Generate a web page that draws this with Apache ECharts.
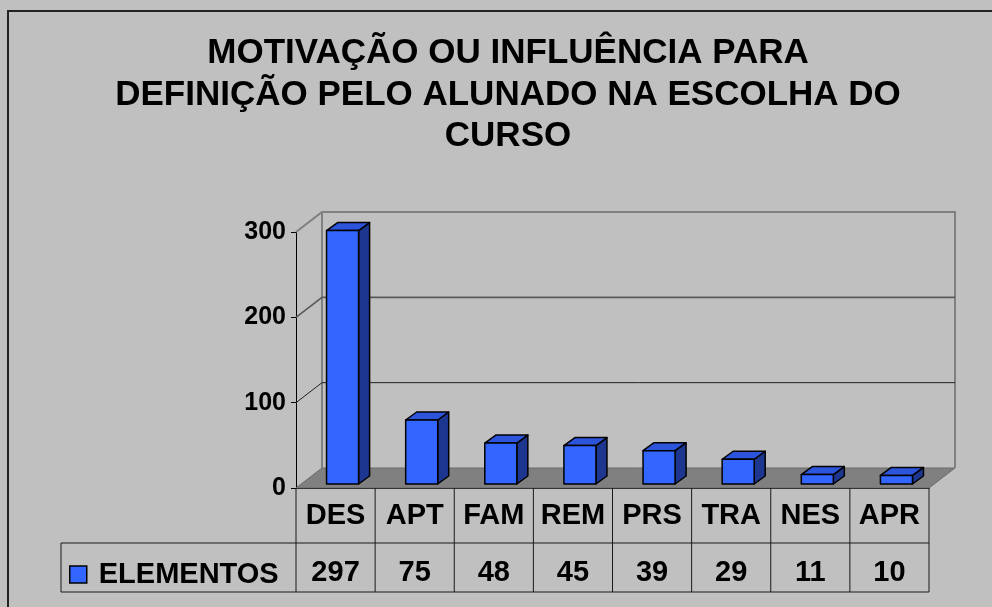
<!DOCTYPE html>
<html>
<head>
<meta charset="utf-8">
<script src="https://cdn.jsdelivr.net/npm/echarts@6/dist/echarts.min.js"></script>
<style>
  html, body { margin: 0; padding: 0; background: #c0c0c0; }
  #chart { width: 992px; height: 607px; }
</style>
</head>
<body>
<div id="chart"></div>
<script>
var titleLines = ['MOTIVAÇÃO OU INFLUÊNCIA PARA', 'DEFINIÇÃO PELO ALUNADO NA ESCOLHA DO', 'CURSO'];
var categories = ['DES', 'APT', 'FAM', 'REM', 'PRS', 'TRA', 'NES', 'APR'];
var elementos = [297, 75, 48, 45, 39, 29, 11, 10];
var yTicks = [0, 100, 200, 300];
var seriesName = 'ELEMENTOS';

var FONT = '"Liberation Sans", Arial, sans-serif';
// depth of the back wall and of the bars (pixels)
var WALL_DX = 26, WALL_DY = -20;
var BAR_DX = 11, BAR_DY = -8;
var TABLE_MID = 543, TABLE_BOTTOM = 592, TABLE_LEFT = 61;

var chart = echarts.init(document.getElementById('chart'));

function sceneItem(params, api) {
  var cs = params.coordSys;
  var left = cs.x, right = cs.x + cs.width;
  var y0 = api.coord([0, 0])[1];
  var children = [];
  // floor
  children.push({
    type: 'polygon',
    shape: { points: [[left, y0], [left + WALL_DX, y0 + WALL_DY], [right + WALL_DX, y0 + WALL_DY], [right, y0]] },
    style: { fill: '#808080', stroke: '#6a6a6a', lineWidth: 1 }
  });
  // back wall outline + side wall top edge
  var yTop = api.coord([0, yTicks[yTicks.length - 1]])[1];
  children.push({
    type: 'polyline',
    shape: { points: [[left, yTop], [left + WALL_DX, yTop + WALL_DY], [right + WALL_DX, yTop + WALL_DY], [right + WALL_DX, y0 + WALL_DY]] },
    style: { fill: null, stroke: '#808080', lineWidth: 2 }
  });
  children.push({
    type: 'line',
    shape: { x1: left + WALL_DX, y1: yTop + WALL_DY, x2: left + WALL_DX, y2: y0 + WALL_DY },
    style: { stroke: '#808080', lineWidth: 2 }
  });
  // gridlines on the back wall and the side wall
  yTicks.forEach(function (t) {
    if (t === 0 || t === yTicks[yTicks.length - 1]) return;
    var y = api.coord([0, t])[1];
    children.push({
      type: 'polyline',
      shape: { points: [[left, y], [left + WALL_DX, y + WALL_DY], [right + WALL_DX, y + WALL_DY]] },
      style: { fill: null, stroke: t === 200 ? '#5a5a5a' : '#202020', lineWidth: t === 200 ? 1.6 : 1 }
    });
  });
  return { type: 'group', children: children };
}

function barItem(params, api) {
  var i = api.value(0), v = api.value(1);
  var base = api.coord([i, 0]);
  var top = api.coord([i, v]);
  var band = api.size([1, 0])[0];
  var w = band * 0.405;
  var x0 = base[0] - w / 2 + 7, x1 = x0 + w;
  var yb = base[1] - 4, yt = top[1] - 4;
  var line = { stroke: '#000', lineWidth: 1.5, lineJoin: 'round' };
  return {
    type: 'group',
    children: [
      { type: 'polygon', shape: { points: [[x1, yt], [x1 + BAR_DX, yt + BAR_DY], [x1 + BAR_DX, yb + BAR_DY], [x1, yb]] },
        style: Object.assign({ fill: '#1d3790' }, line) },
      { type: 'polygon', shape: { points: [[x0, yt], [x0 + BAR_DX, yt + BAR_DY], [x1 + BAR_DX, yt + BAR_DY], [x1, yt]] },
        style: Object.assign({ fill: '#2d55dc' }, line) },
      { type: 'rect', shape: { x: x0, y: yt, width: w, height: yb - yt },
        style: Object.assign({ fill: '#3366ff' }, line) }
    ]
  };
}

function tableItem(params, api) {
  var i = api.value(0);
  var base = api.coord([i, 0]);
  var band = api.size([1, 0])[0];
  var xr = base[0] + band / 2;
  var st = { stroke: '#1a1a1a', lineWidth: 1 };
  var children = [
    { type: 'line', shape: { x1: xr, y1: base[1], x2: xr, y2: TABLE_BOTTOM }, style: st }
  ];
  if (i === 0) {
    var xl = base[0] - band / 2;
    var xEnd = xl + band * categories.length;
    children.push({ type: 'line', shape: { x1: xl, y1: base[1], x2: xl, y2: TABLE_BOTTOM }, style: st });
    children.push({ type: 'line', shape: { x1: TABLE_LEFT, y1: TABLE_MID, x2: xEnd, y2: TABLE_MID }, style: st });
    children.push({ type: 'line', shape: { x1: TABLE_LEFT, y1: TABLE_BOTTOM, x2: xEnd, y2: TABLE_BOTTOM }, style: st });
    children.push({ type: 'line', shape: { x1: TABLE_LEFT, y1: TABLE_MID, x2: TABLE_LEFT, y2: TABLE_BOTTOM }, style: st });
  }
  return { type: 'group', children: children };
}

chart.setOption({
  backgroundColor: '#c0c0c0',
  animation: false,
  graphic: [
    { type: 'rect', shape: { x: 8, y: 11, width: 1100, height: 700 },
      style: { fill: null, stroke: '#222', lineWidth: 2 } },
    { type: 'text', x: 508, y: 33,
      style: { text: titleLines.join('\n'), textAlign: 'center', fill: '#000',
               font: 'bold 35px ' + FONT, lineHeight: 41.5 } }
  ],
  legend: {
    data: [seriesName],
    left: 64, top: 555,
    icon: 'rect', itemWidth: 17, itemHeight: 17,
    itemStyle: { borderColor: '#000', borderWidth: 1.5 },
    textStyle: { fontFamily: FONT, fontWeight: 'bold', fontSize: 29, color: '#000', padding: [0, 0, 0, 7] }
  },
  grid: { left: 296, right: 63, top: 232, bottom: 119 },
  xAxis: [{
    type: 'category',
    data: categories,
    axisLine: { show: true, lineStyle: { color: '#000', width: 1 } },
    axisTick: { show: false },
    axisLabel: { interval: 0, margin: 28, verticalAlign: 'middle',
                 fontFamily: FONT, fontWeight: 'bold', fontSize: 29, color: '#000' }
  }, {
    type: 'category',
    data: categories,
    position: 'bottom',
    axisLine: { show: false },
    axisTick: { show: false },
    axisLabel: { interval: 0, margin: 85, verticalAlign: 'middle',
                 formatter: function (v, idx) { return String(elementos[idx]); },
                 fontFamily: FONT, fontWeight: 'bold', fontSize: 29, color: '#000' }
  }],
  yAxis: {
    type: 'value',
    min: 0, max: 300, interval: 100,
    axisLine: { show: true, lineStyle: { color: '#000', width: 1 } },
    axisTick: { show: true, length: 5, lineStyle: { color: '#000' } },
    splitLine: { show: false },
    axisLabel: { margin: 10, fontFamily: FONT, fontWeight: 'bold', fontSize: 25, color: '#000' }
  },
  series: [{
    type: 'custom',
    name: 'scene',
    z: 1,
    silent: true,
    renderItem: sceneItem,
    data: [[0, 0]]
  }, {
    type: 'custom',
    name: 'table',
    z: 2,
    silent: true,
    renderItem: tableItem,
    data: categories.map(function (c, i) { return [i, 0]; })
  }, {
    type: 'custom',
    name: seriesName,
    z: 3,
    itemStyle: { color: '#3366ff' },
    renderItem: barItem,
    encode: { x: 0, y: 1 },
    data: elementos.map(function (v, i) { return [i, v]; })
  }]
});
</script>
</body>
</html>
